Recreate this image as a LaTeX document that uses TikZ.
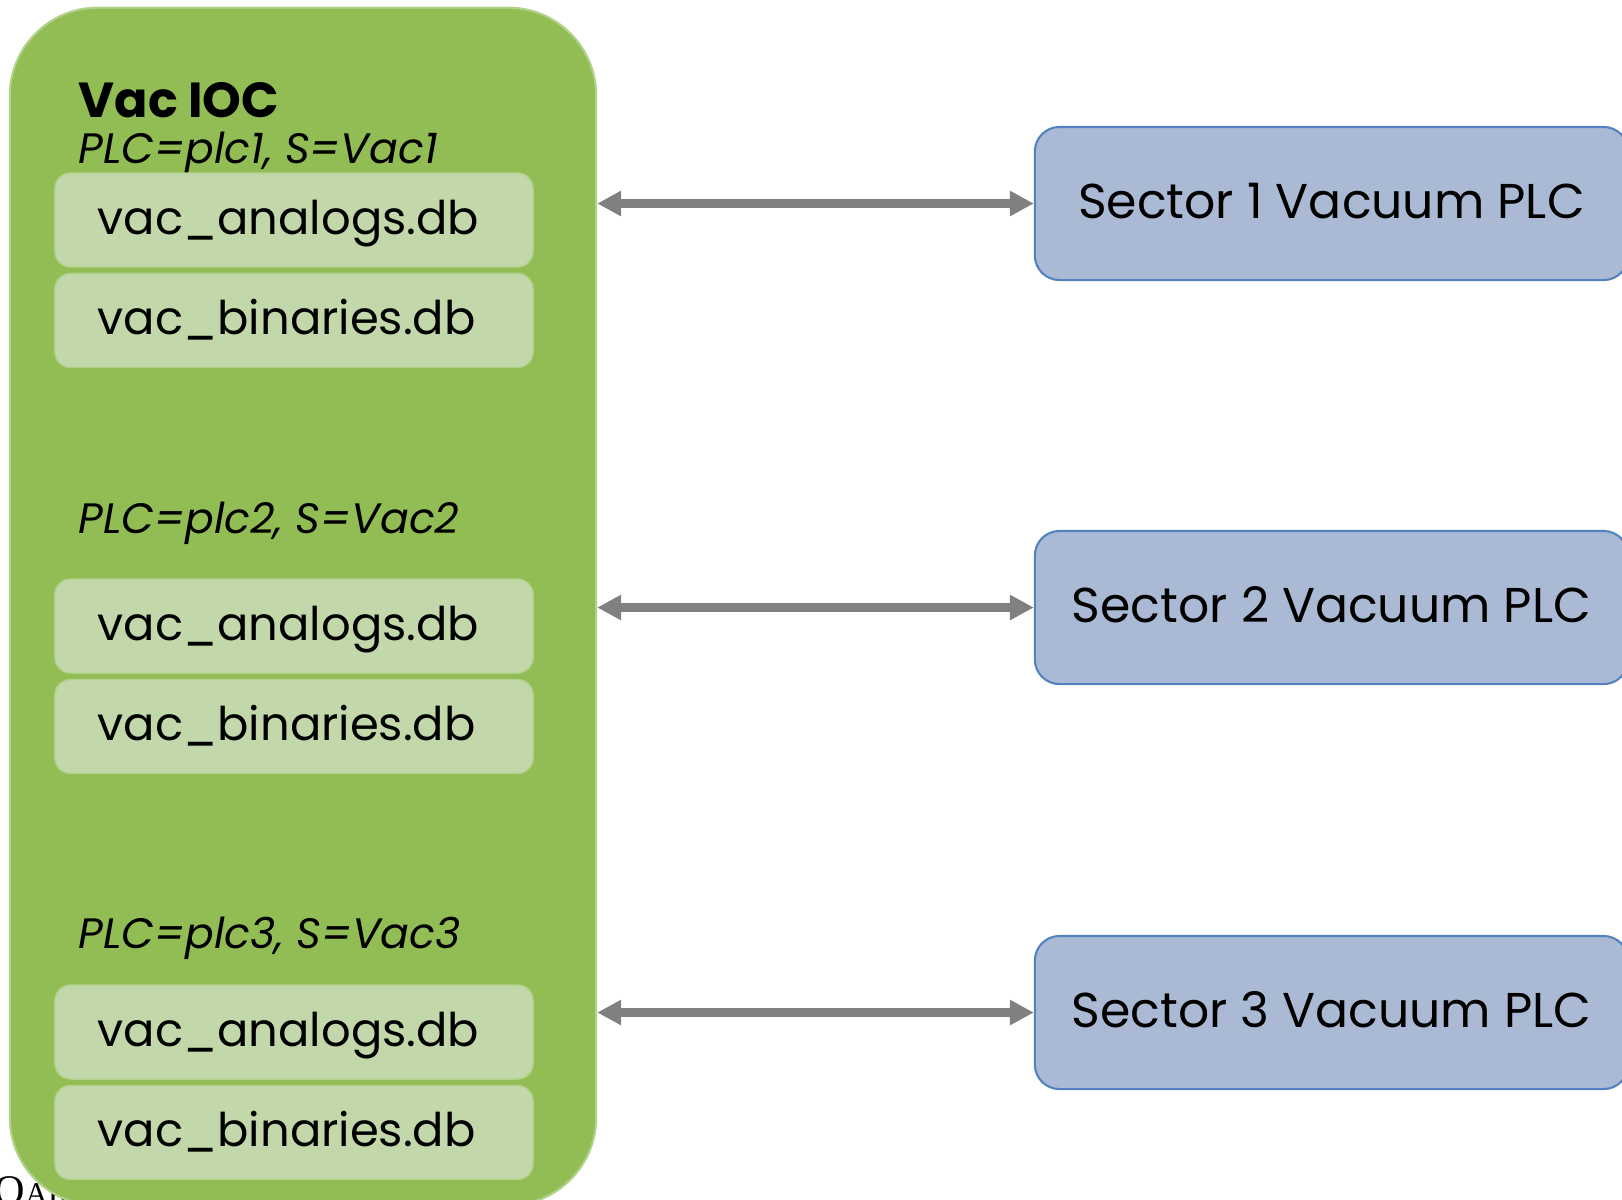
\documentclass[tikz,border=0pt]{standalone}
\usepackage{fontspec}
\setmainfont{Poppins}
\newfontfamily\logofont{Liberation Serif}
\usetikzlibrary{arrows.meta, positioning, calc}

\definecolor{iocgreen}{RGB}{146, 188, 84}
\definecolor{iocedge}{RGB}{178, 210, 140}
\definecolor{dbgreen}{RGB}{194, 216, 170}
\definecolor{plcblue}{RGB}{171, 186, 212}
\definecolor{plcedge}{RGB}{84, 130, 190}
\definecolor{linkgray}{RGB}{128, 128, 128}

\tikzset{
  iocbox/.style={fill=iocgreen, draw=iocedge, line width=0.6pt, rounded corners=25pt,
    minimum width=5.86cm, minimum height=11.97cm, inner sep=0pt},
  dbbox/.style={fill=dbgreen, draw=iocedge, line width=0.4pt, rounded corners=4.5pt,
    inner xsep=0.43cm, inner ysep=0pt, text width=3.92cm, align=left,
    minimum height=0.94cm, text height=1.85ex, text depth=0.35ex,
    font=\fontsize{13.2}{16}\selectfont},
  plcbox/.style={fill=plcblue, draw=plcedge, line width=0.6pt, rounded corners=7pt,
    minimum width=5.93cm, minimum height=1.53cm, text depth=0.3ex,
    font=\fontsize{13.9}{17}\selectfont},
  cfgtext/.style={anchor=base west, inner sep=0pt, font=\fontsize{12.1}{14}\selectfont\itshape},
  link/.style={draw=linkgray, line width=2.3pt,
    arrows={Triangle[length=6.8pt,width=6.8pt]-Triangle[length=6.8pt,width=6.8pt]}},
}

\begin{document}
\begin{tikzpicture}[x=0.01cm, y=-0.01cm]
  \useasboundingbox (0,0) rectangle (1622,1199);

  % logo left over at the page corner
  \node[anchor=base west, inner sep=0pt] (logo) at (-6,1204)
    {\logofont\fontsize{12}{12}\selectfont O\fontsize{9}{9}\selectfont AK};

  % the IOC
  \node[iocbox] (ioc) at (303,606.5) {};
  \node[anchor=base west, inner sep=0pt, font=\fontsize{14}{17}\selectfont\bfseries] (title) at (78,117) {Vac IOC};

  \node[cfgtext] (cfg1) at (78,163) {PLC=plc1, S=Vac1};
  \node[cfgtext] (cfg2) at (78,533) {PLC=plc2, S=Vac2};
  \node[cfgtext] (cfg3) at (78,948) {PLC=plc3, S=Vac3};

  % databases and PLCs, one group per sector
  \foreach \i/\y/\py in {1/220/203.5, 2/626/607.5, 3/1032/1012.5} {
    \node[dbbox] (analog\i) at (294,\y) {vac\_analogs.db};
    \node[dbbox, below=0.05cm of analog\i] (binary\i) {vac\_binaries.db};
    \node[plcbox] (plc\i) at (1331.5,\py) {Sector \i\ Vacuum PLC};
    \draw[link] (plc\i.west -| ioc.east) -- (plc\i.west);
  }
\end{tikzpicture}
\end{document}
